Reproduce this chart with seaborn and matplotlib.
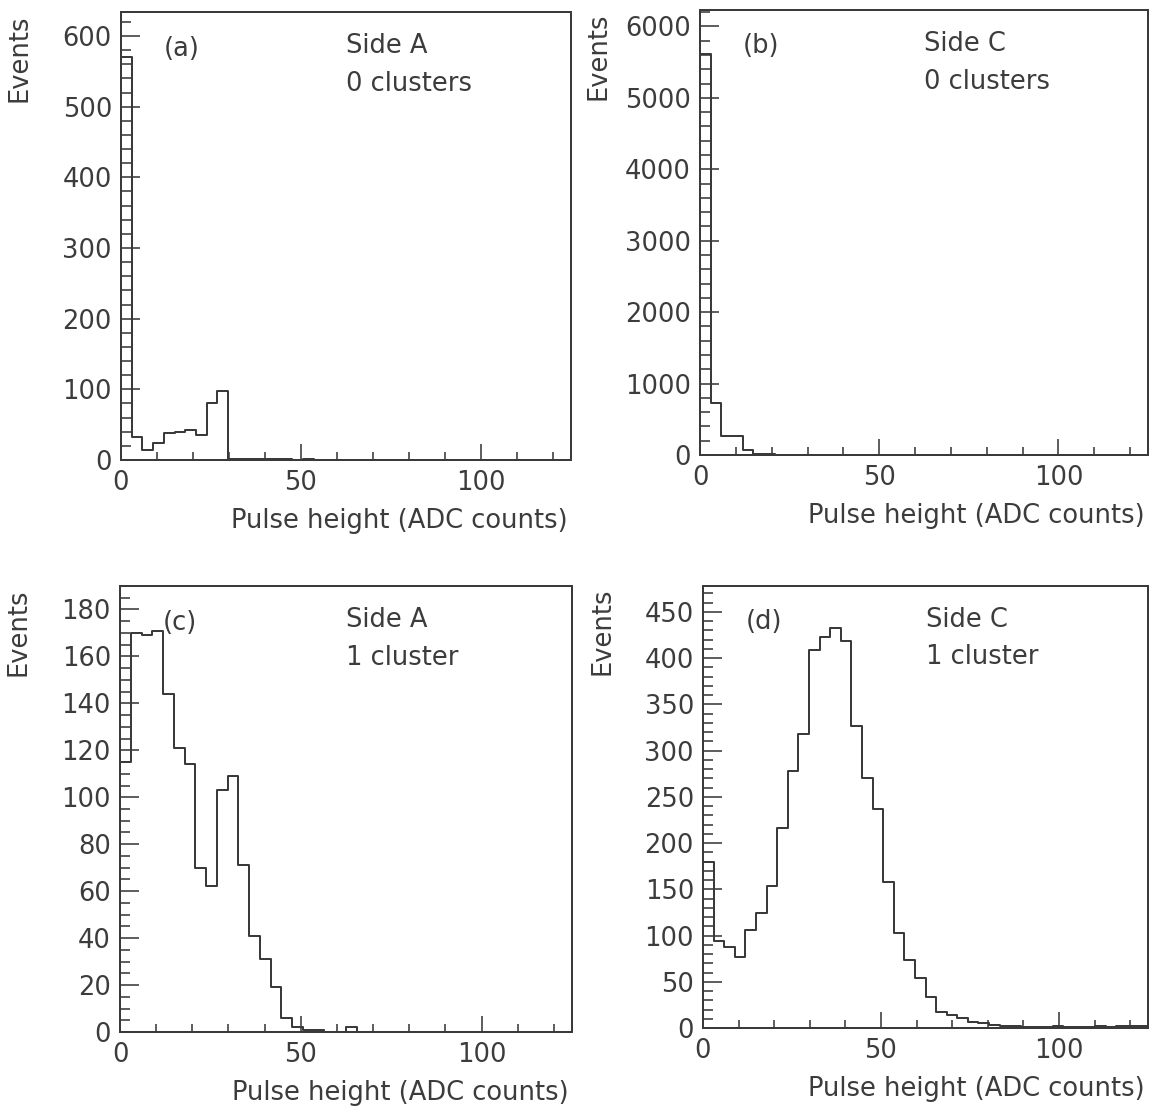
import numpy as np
import pandas as pd
import matplotlib
matplotlib.use("Agg")
import matplotlib.pyplot as plt
import matplotlib.transforms as mtransforms
from matplotlib.ticker import MultipleLocator
import seaborn as sns

# ---------------- data (42 bins over 0..125 ADC counts) ----------------
n_bins = 42
x_max = 125
counts_a = [571, 33, 14, 24, 38, 40, 42, 35, 80, 97,
            2, 2, 1, 1, 1, 1, 0, 1, 0, 0, 0, 0, 0, 0, 0, 0, 0, 0, 0, 0,
            0, 0, 0, 0, 0, 0, 0, 0, 0, 0, 0, 0]
counts_b = [5620, 731, 266, 262, 70, 20, 10, 5, 3, 2, 1, 1, 1, 0, 0, 0, 0, 0, 0, 0,
            0, 0, 0, 0, 0, 0, 0, 0, 0, 0, 0, 0, 0, 0, 0, 0, 0, 0, 0, 0, 0, 0]
counts_c = [115, 170, 169, 171, 144, 121, 114, 70, 62, 103,
            109, 71, 41, 31, 19, 6, 2, 1, 1, 0, 0, 2, 0, 0, 0, 0, 0, 0, 0, 0,
            0, 0, 0, 0, 0, 0, 0, 0, 0, 0, 0, 0]
counts_d = [179, 94, 88, 77, 106, 124, 154, 216, 278, 318,
            409, 423, 433, 418, 327, 270, 237, 158, 103, 74,
            54, 33, 17, 14, 11, 7, 5, 3, 2, 2, 1, 1, 1, 2, 1, 1,
            1, 2, 1, 2, 2, 2]

panel_tags = ["(a)", "(b)", "(c)", "(d)"]
sides = ["Side A", "Side C", "Side A", "Side C"]
clusters = ["0 clusters", "0 clusters", "1 cluster", "1 cluster"]
y_tops = [634, 6230, 190, 478]
y_major = [100, 1000, 20, 50]
y_minor = [20, 200, 5, 10]
x_label = "Pulse height (ADC counts)"
y_label = "Events"

edges = np.linspace(0, x_max, n_bins + 1)
centers = 0.5 * (edges[:-1] + edges[1:])

# ---------------- style ----------------
sns.set_style("white")
plt.rcParams["font.family"] = ["DejaVu Sans"]
ink = "#3a3a3a"
txt = "#3c3c3c"
fs = 18.5

W, H = 1160, 1111
fig = plt.figure(figsize=(W / 100, H / 100), dpi=100)

# axes boxes in pixels: left, right, top, bottom
boxes = [(121, 571, 12, 460), (700, 1148, 10, 455),
         (120, 572, 586, 1032), (703, 1148, 586, 1028)]

all_counts = [counts_a, counts_b, counts_c, counts_d]
px = 0.72  # points per pixel

for i, (cnts, box) in enumerate(zip(all_counts, boxes)):
    l, r, t, b = box
    ax = fig.add_axes([l / W, 1 - b / H, (r - l) / W, (b - t) / H])
    df = pd.DataFrame({"x": centers, "w": np.asarray(cnts, dtype=float)})
    sns.histplot(data=df, x="x", weights="w", bins=n_bins, binrange=(0, x_max),
                 element="step", fill=False, color=ink, linewidth=2 * px, ax=ax)
    ax.set_xlim(0, x_max)
    ax.set_ylim(0, y_tops[i])
    ax.set_xlabel("")
    ax.set_ylabel("")
    for s in ax.spines.values():
        s.set_color(ink)
        s.set_linewidth(2 * px)
        s.set_visible(True)
    ax.xaxis.set_major_locator(MultipleLocator(50))
    ax.xaxis.set_minor_locator(MultipleLocator(10))
    ax.yaxis.set_major_locator(MultipleLocator(y_major[i]))
    ax.yaxis.set_minor_locator(MultipleLocator(y_minor[i]))
    ax.tick_params(axis="x", which="major", direction="in", length=16 * px,
                   width=1.6 * px, color=ink, labelsize=fs, labelcolor=txt,
                   pad=10 * px, bottom=True, top=False)
    ax.tick_params(axis="x", which="minor", direction="in", length=8 * px,
                   width=1.6 * px, color=ink, bottom=True, top=False)
    ax.tick_params(axis="y", which="major", direction="in", length=19 * px,
                   width=1.6 * px, color=ink, labelsize=fs, labelcolor=txt,
                   pad=9 * px, left=True, right=False)
    ax.tick_params(axis="y", which="minor", direction="in", length=10 * px,
                   width=1.6 * px, color=ink, left=True, right=False)
    ax.grid(False)

    ax.text(0.095, 0.918, panel_tags[i], transform=ax.transAxes, ha="left",
            va="center", fontsize=fs, color=txt)
    ax.text(0.5, 0.923, sides[i], transform=ax.transAxes, ha="left",
            va="center", fontsize=fs, color=txt)
    ax.text(0.5, 0.839, clusters[i], transform=ax.transAxes, ha="left",
            va="center", fontsize=fs, color=txt)

    tr_x = mtransforms.offset_copy(ax.transAxes, fig=fig, x=-3, y=-61, units="dots")
    ax.text(1.0, 0.0, x_label, transform=tr_x, ha="right", va="center",
            fontsize=fs, color=txt)
    tr_y = mtransforms.offset_copy(ax.transAxes, fig=fig, x=-101, y=-2, units="dots")
    ax.text(0.0, 1.0, y_label, transform=tr_y, ha="center", va="top",
            rotation=90, fontsize=fs, color=txt)

fig.savefig("out.png", dpi=100, facecolor="white")
